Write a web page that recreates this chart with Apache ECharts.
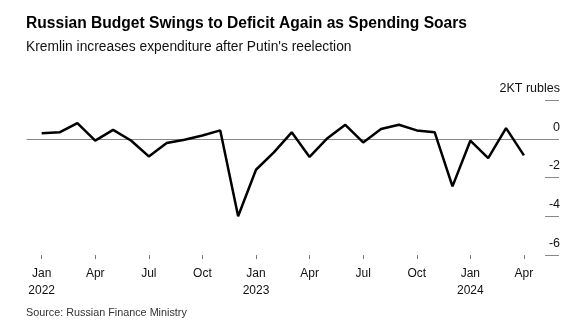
<!DOCTYPE html>
<html>
<head>
<meta charset="utf-8">
<script src="https://cdn.jsdelivr.net/npm/echarts@6/dist/echarts.min.js"></script>
<style>
  html, body { margin: 0; padding: 0; background: #fff; }
  #chart { width: 586px; height: 336px; }
</style>
</head>
<body>
<div id="chart"></div>
<script>
// Monthly federal budget balance, trillion rubles
const months = [
  'Jan 2022','Feb 2022','Mar 2022','Apr 2022','May 2022','Jun 2022',
  'Jul 2022','Aug 2022','Sep 2022','Oct 2022','Nov 2022','Dec 2022',
  'Jan 2023','Feb 2023','Mar 2023','Apr 2023','May 2023','Jun 2023',
  'Jul 2023','Aug 2023','Sep 2023','Oct 2023','Nov 2023','Dec 2023',
  'Jan 2024','Feb 2024','Mar 2024','Apr 2024'
];
const balance = [
  0.29, 0.33, 0.81, -0.10, 0.46, -0.09,
  -0.91, -0.22, -0.05, 0.17, 0.43, -4.0,
  -1.60, -0.70, 0.33, -0.94, 0.03, 0.72,
  -0.19, 0.50, 0.72, 0.43, 0.34, -2.46,
  -0.10, -1.0, 0.55, -0.86
];
const quarterTicks = [0, 3, 6, 9, 12, 15, 18, 21, 24, 27];
const yTickLabels = { '2': '2KT rubles', '0': '0', '-2': '-2', '-4': '-4', '-6': '-6' };

const font = '"Liberation Sans", Arial, sans-serif';
const points = balance.map((v, i) => [i, v]);

function monthLabel(i) {
  const parts = months[Math.round(i)].split(' ');
  return parts[0] === 'Jan' ? parts[0] + '\n' + parts[1] : parts[0];
}

const chart = echarts.init(document.getElementById('chart'), null, { renderer: 'canvas' });
chart.setOption({
  animation: false,
  backgroundColor: '#fff',
  title: [
    {
      text: 'Russian Budget Swings to Deficit Again as Spending Soars',
      left: 26, top: 16, padding: 0,
      textStyle: { fontFamily: font, fontSize: 15.6, fontWeight: 'bold', color: '#000' }
    },
    {
      text: "Kremlin increases expenditure after Putin's reelection",
      left: 26, top: 40, padding: 0,
      textStyle: { fontFamily: font, fontSize: 13.8, fontWeight: 'normal', color: '#111' }
    },
    {
      text: 'Source: Russian Finance Ministry',
      left: 26, top: 308, padding: 0,
      textStyle: { fontFamily: font, fontSize: 10.8, fontWeight: 'normal', color: '#333' }
    }
  ],
  grid: { left: 27, right: 41, top: 100, bottom: 81 },
  xAxis: [
    {
      type: 'value',
      min: -0.82, max: 28.18,
      position: 'bottom',
      axisLine: { show: false, onZero: false },
      splitLine: { show: false },
      axisTick: {
        show: true, length: 4, customValues: quarterTicks,
        lineStyle: { color: '#777', width: 1 }
      },
      axisLabel: {
        customValues: quarterTicks,
        formatter: monthLabel,
        margin: 10,
        fontFamily: font, fontSize: 12, color: '#111', lineHeight: 17
      }
    },
    {
      type: 'value',
      min: -0.82, max: 28.18,
      position: 'top',
      axisLine: { show: true, onZero: true, lineStyle: { color: '#888', width: 1 } },
      axisTick: { show: false },
      axisLabel: { show: false },
      splitLine: { show: false }
    }
  ],
  yAxis: {
    type: 'value',
    position: 'right',
    min: -6, max: 2, interval: 2,
    axisLine: { show: false, onZero: false },
    splitLine: { show: false },
    axisTick: { show: true, length: 14, lineStyle: { color: '#888', width: 1 } },
    axisLabel: {
      formatter: v => yTickLabels[String(v)],
      align: 'right',
      verticalAlign: 'bottom',
      padding: [0, 0, 5, 0],
      margin: 15,
      fontFamily: font, fontSize: 12.5, color: '#111'
    }
  },
  series: [{
    type: 'line',
    xAxisIndex: 0,
    data: points,
    showSymbol: false,
    lineStyle: { color: '#000', width: 2.5 },
    z: 5
  }]
});
</script>
</body>
</html>
